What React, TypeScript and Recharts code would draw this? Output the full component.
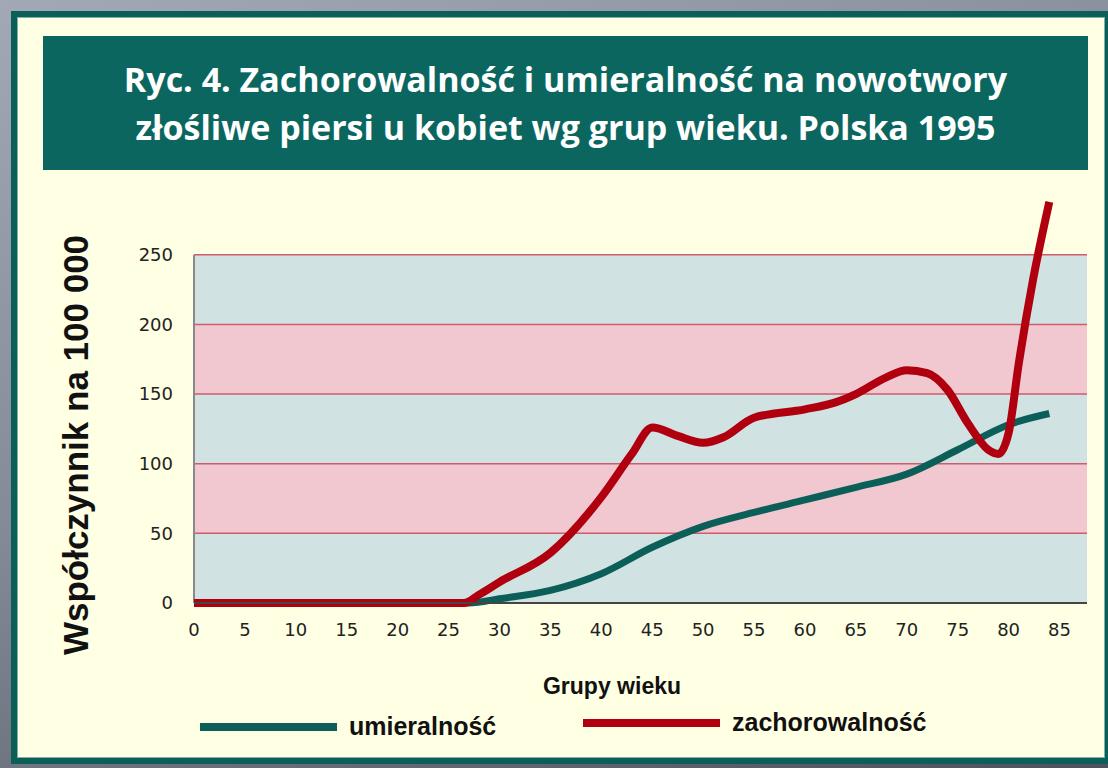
import React from 'react';
import { LineChart, Line, XAxis, YAxis, ReferenceArea, ReferenceLine } from 'recharts';

const titleLines = [
  'Ryc. 4. Zachorowalność i umieralność na nowotwory',
  'złośliwe piersi u kobiet wg grup wieku. Polska 1995',
];
const yAxisLabel = 'Współczynnik na 100 000';
const xAxisLabel = 'Grupy wieku';
const seriesNames = ['umieralność', 'zachorowalność'];

const xTicks = [0, 5, 10, 15, 20, 25, 30, 35, 40, 45, 50, 55, 60, 65, 70, 75, 80, 85];
const yTicks = [0, 50, 100, 150, 200, 250];
const bandEdges = [0, 50, 100, 150, 200, 250];

const mortalityAges = [0, 5, 10, 15, 20, 25, 27, 30, 35, 40, 45, 50, 55, 60, 65, 70, 75, 80, 84];
const mortalityValues = [0, 0, 0, 0, 0, 0, 0, 3, 9, 21, 40, 55, 65, 74, 83, 92.5, 110, 128, 136];

const incidenceAges = [0, 5, 10, 15, 20, 25, 26.5, 28, 30, 35, 40, 43, 45, 47.5, 50, 52, 55, 60, 63, 65, 68, 70, 72, 74, 76, 78, 79, 80, 81, 82.4, 84];
const incidenceValues = [0, 0, 0, 0, 0, 0, 0, 6, 15, 36, 76, 107, 126, 120, 115, 119, 133, 139, 144, 150, 162, 167, 165, 153, 129, 110, 107, 122, 172, 232, 288];

const mortalityData = mortalityAges.map((a, i) => ({ age: a, v: mortalityValues[i] }));
const incidenceData = incidenceAges.map((a, i) => ({ age: a, v: incidenceValues[i] }));

const X_MAX = 87.7;
const Y_MAX = 290;

const TEAL = '#0b5f58';
const RED = '#b0000f';
const BAND_BLUE = '#d0e2e1';
const BAND_PINK = '#f1c8d0';

export default function App() {
  const Y_W = 60;
  const X_H = 30;
  return (
    <div
      style={{
        position: 'absolute',
        left: 0,
        top: 0,
        width: 1108,
        height: 768,
        overflow: 'hidden',
        background: 'linear-gradient(160deg, #a3a8b6 0%, #858a98 45%, #4d525e 100%)',
      }}
    >
      <div
        style={{
          position: 'absolute',
          left: 11,
          top: 11,
          width: 1100,
          height: 753,
          boxSizing: 'border-box',
          background: '#ffffe3',
          border: `6px solid ${TEAL}`,
          boxShadow: 'inset 0 0 0 1px #7fb0aa',
        }}
      />
      <div
        style={{
          position: 'absolute',
          left: 43,
          top: 36,
          width: 1045,
          height: 134,
          background: '#0c6660',
          color: '#ffffff',
          fontFamily: '"Open Sans", sans-serif',
          fontWeight: 700,
          fontSize: 34,
          textAlign: 'center',
          lineHeight: '48px',
          paddingTop: 19,
          boxSizing: 'border-box',
          whiteSpace: 'nowrap',
        }}
      >
        {titleLines.map((t) => (
          <div key={t}>{t}</div>
        ))}
      </div>

      <div
        style={{
          position: 'absolute',
          left: 76,
          top: 445,
          transform: 'translate(-50%, -50%) rotate(-90deg)',
          whiteSpace: 'nowrap',
          fontFamily: '"Liberation Sans", Arial, sans-serif',
          fontWeight: 700,
          fontSize: 35,
          color: '#111',
        }}
      >
        {yAxisLabel}
      </div>

      <div style={{ position: 'absolute', left: 0, top: 0 }}>
        <LineChart
          width={1108}
          height={768}
          margin={{ left: 194 - Y_W, right: 1108 - 1087, top: 199, bottom: 768 - 603 - X_H }}
        >
          <XAxis
            type="number"
            dataKey="age"
            domain={[0, X_MAX]}
            ticks={xTicks}
            allowDuplicatedCategory={false}
            height={X_H}
            tickSize={0}
            tickMargin={20}
            axisLine={{ stroke: '#444', strokeWidth: 2 }}
            tick={{ fill: '#222', fontSize: 18, fontFamily: '"DejaVu Sans", sans-serif' }}
            interval={0}
          />
          <YAxis
            type="number"
            domain={[0, Y_MAX]}
            ticks={yTicks}
            width={Y_W}
            tickSize={0}
            tickMargin={21}
            axisLine={false}
            tick={{ fill: '#222', fontSize: 18, fontFamily: '"DejaVu Sans", sans-serif' }}
          />
          {bandEdges.slice(0, -1).map((lo, i) => (
            <ReferenceArea
              key={'b' + lo}
              x1={0}
              x2={X_MAX}
              y1={lo}
              y2={bandEdges[i + 1]}
              fill={i % 2 === 0 ? BAND_BLUE : BAND_PINK}
              fillOpacity={1}
              stroke="none"
            />
          ))}
          {yTicks.slice(1).map((t) => (
            <ReferenceLine key={'g' + t} y={t} stroke="#cf5b6b" strokeWidth={1.5} />
          ))}
          <ReferenceLine
            segment={[{ x: 0, y: 0 }, { x: 0, y: 250 }]}
            stroke="#8a8a8a"
            strokeWidth={2}
          />
          <Line
            data={mortalityData}
            dataKey="v"
            type="monotone"
            stroke={TEAL}
            strokeWidth={7}
            dot={false}
            isAnimationActive={false}
          />
          <Line
            data={incidenceData}
            dataKey="v"
            type="monotone"
            stroke={RED}
            strokeWidth={8}
            dot={false}
            isAnimationActive={false}
          />
        </LineChart>
      </div>

      <div
        style={{
          position: 'absolute',
          left: 612,
          top: 686,
          transform: 'translate(-50%, -50%)',
          whiteSpace: 'nowrap',
          fontFamily: '"Liberation Sans", Arial, sans-serif',
          fontWeight: 700,
          fontSize: 23,
          color: '#111',
        }}
      >
        {xAxisLabel}
      </div>

      {seriesNames.map((name, i) => (
        <div
          key={name}
          style={{
            position: 'absolute',
            left: i === 0 ? 200 : 583,
            top: i === 0 ? 712 : 708,
            display: 'flex',
            alignItems: 'center',
            whiteSpace: 'nowrap',
            fontFamily: '"Liberation Sans", Arial, sans-serif',
            fontWeight: 700,
            fontSize: 25,
            color: '#111',
          }}
        >
          <div style={{ width: 137, height: 8, background: i === 0 ? TEAL : RED, marginRight: 12 }} />
          <span>{name}</span>
        </div>
      ))}
    </div>
  );
}
